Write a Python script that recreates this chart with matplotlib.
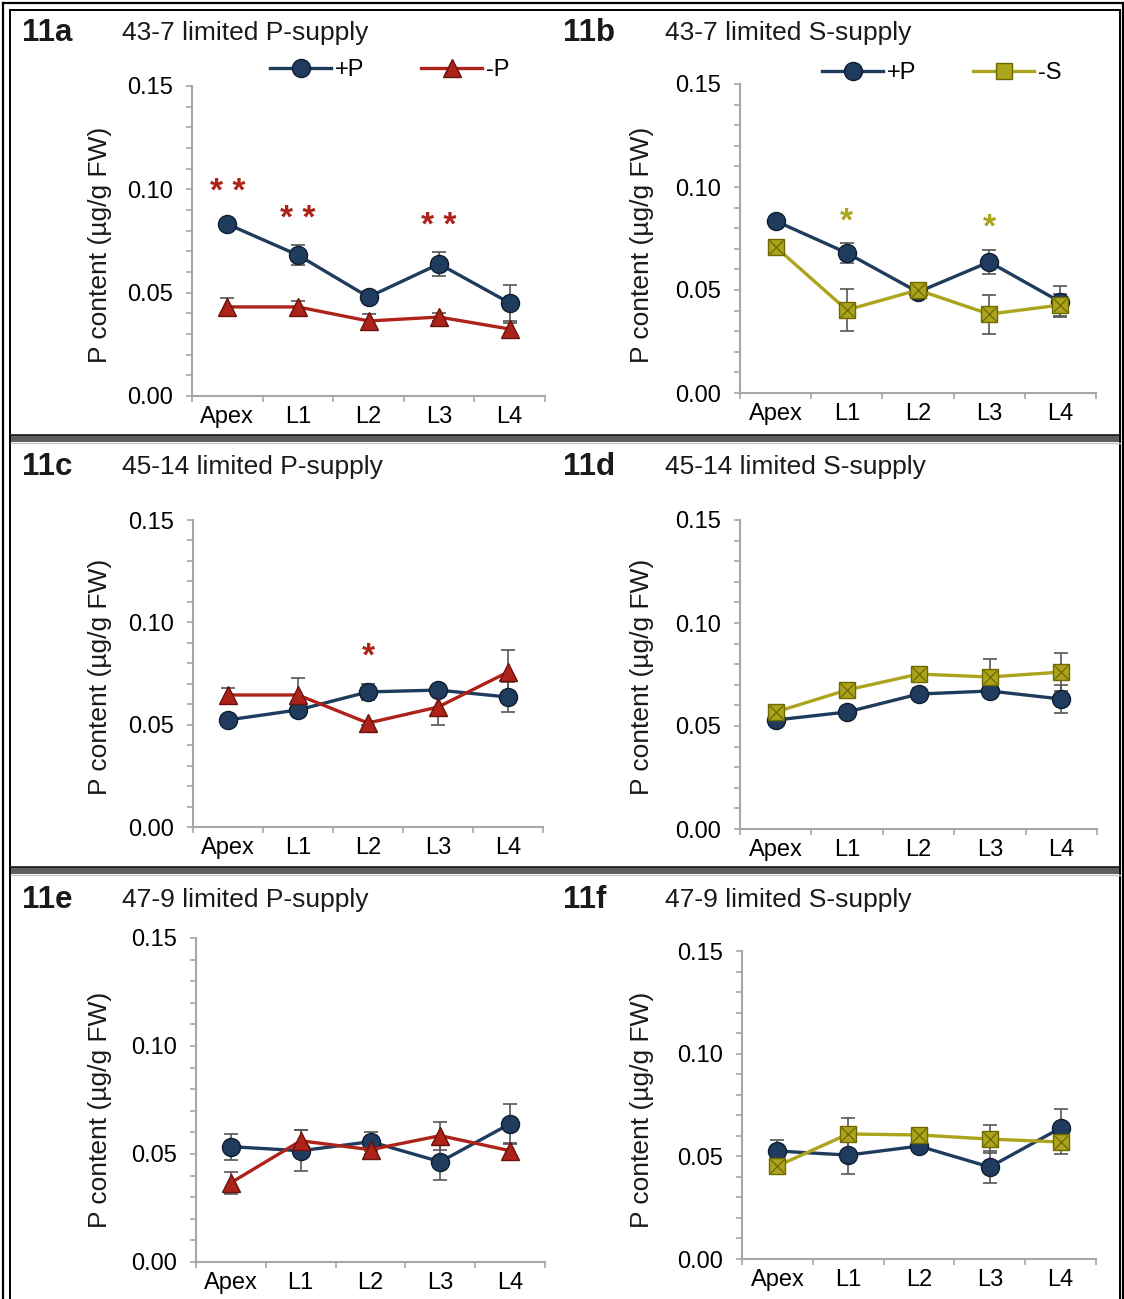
import matplotlib
matplotlib.use("Agg")
import matplotlib.pyplot as plt
from matplotlib.lines import Line2D
from matplotlib.patches import Rectangle
from matplotlib.ticker import MultipleLocator, FixedLocator

plt.rcParams['font.family'] = ['Liberation Sans', 'DejaVu Sans']

W, H = 1124, 1299

cats = ['Apex', 'L1', 'L2', 'L3', 'L4']
yticks = [0.0, 0.05, 0.10, 0.15]
ytick_labels = ['0.00', '0.05', '0.10', '0.15']

# 43-7 limited P-supply (11a)
a_plus = [0.0832, 0.0682, 0.0479, 0.0639, 0.0450]
a_plus_err = [0.0012, 0.0050, 0.0030, 0.0058, 0.0085]
a_minus = [0.0431, 0.0431, 0.0363, 0.0382, 0.0324]
a_minus_err = [0.0045, 0.0030, 0.0035, 0.0020, 0.0030]
a_stars = [(0, 0.1016, '* *'), (1, 0.0886, '* *'), (3, 0.0852, '* *')]

# 43-7 limited S-supply (11b)
b_plus = [0.0835, 0.0680, 0.0490, 0.0636, 0.0442]
b_plus_err = [0.0012, 0.0050, 0.0030, 0.0058, 0.0075]
b_minus = [0.0709, 0.0403, 0.0500, 0.0383, 0.0427]
b_minus_err = [0.0030, 0.0100, 0.0025, 0.0095, 0.0055]
b_stars = [(1, 0.0864, '*'), (3, 0.0835, '*')]

# 45-14 limited P-supply (11c)
c_plus = [0.0523, 0.0572, 0.0660, 0.0669, 0.0635]
c_plus_err = [0.0010, 0.0010, 0.0040, 0.0010, 0.0073]
c_minus = [0.0645, 0.0645, 0.0508, 0.0586, 0.0757]
c_minus_err = [0.0035, 0.0085, 0.0010, 0.0090, 0.0110]
c_stars = [(2, 0.0865, '*')]

# 45-14 limited S-supply (11d)
d_plus = [0.0529, 0.0568, 0.0655, 0.0670, 0.0631]
d_plus_err = [0.0010, 0.0010, 0.0030, 0.0010, 0.0070]
d_minus = [0.0568, 0.0675, 0.0752, 0.0738, 0.0762]
d_minus_err = [0.0020, 0.0030, 0.0010, 0.0087, 0.0090]
d_stars = []

# 47-9 limited P-supply (11e)
e_plus = [0.0534, 0.0515, 0.0557, 0.0464, 0.0640]
e_plus_err = [0.0060, 0.0095, 0.0045, 0.0085, 0.0093]
e_minus = [0.0367, 0.0561, 0.0520, 0.0585, 0.0515]
e_minus_err = [0.0050, 0.0050, 0.0020, 0.0065, 0.0037]
e_stars = []

# 47-9 limited S-supply (11f)
f_plus = [0.0526, 0.0506, 0.0550, 0.0448, 0.0638]
f_plus_err = [0.0055, 0.0090, 0.0020, 0.0080, 0.0093]
f_minus = [0.0453, 0.0609, 0.0604, 0.0584, 0.0570]
f_minus_err = [0.0040, 0.0080, 0.0015, 0.0070, 0.0060]
f_stars = []

NAVY = '#1f3c5e'
NAVY_DARK = '#0d1e33'
RED = '#ad2219'
RED_DARK = '#6a120c'
OLIVE = '#aca41c'
OLIVE_DARK = '#6d6800'
ERR = '#555555'
AXIS = '#a6a6a6'


def px_rect(x0, y0, x1, y1):
    return [x0 / W, 1 - y1 / H, (x1 - x0) / W, (y1 - y0) / H]


def fx(x):
    return x / W


def fy(y):
    return 1 - y / H


fig = plt.figure(figsize=(W / 100, H / 100), dpi=100)


def draw_panel(box, plus, plus_err, other, other_err, kind, stars):
    ax = fig.add_axes(px_rect(*box))
    x = list(range(len(cats)))
    oc = RED if kind == 'P' else OLIVE
    ax.errorbar(x, plus, yerr=plus_err, fmt='none', ecolor=ERR,
                elinewidth=1.2, capsize=4.8, capthick=1.2, zorder=2)
    ax.errorbar(x, other, yerr=other_err, fmt='none', ecolor=ERR,
                elinewidth=1.2, capsize=4.8, capthick=1.2, zorder=2)
    ax.plot(x, plus, color=NAVY, lw=2.4, marker='o', ms=13,
            mfc=NAVY, mec=NAVY_DARK, mew=1, zorder=3)
    if kind == 'P':
        ax.plot(x, other, color=RED, lw=2.4, marker='^', ms=13.5,
                mfc=RED, mec=RED_DARK, mew=1, zorder=4)
    else:
        ax.plot(x, other, color=OLIVE, lw=2.4, marker='s', ms=11.5,
                mfc=OLIVE, mec=OLIVE_DARK, mew=1, zorder=4)
        ax.plot(x, other, ls='none', marker='x', ms=10.5,
                mec=OLIVE_DARK, mew=0.9, zorder=5)
    for sx, sy, st in stars:
        ax.annotate(st, (sx, sy), xytext=(0, -5), textcoords='offset points',
                    color=oc, fontsize=24, fontweight='bold',
                    ha='center', va='center')

    ax.set_xlim(-0.5, 4.5)
    ax.set_ylim(0, 0.15)
    for s in ('top', 'right'):
        ax.spines[s].set_visible(False)
    for s in ('left', 'bottom'):
        ax.spines[s].set_color(AXIS)
        ax.spines[s].set_linewidth(1.5)
    ax.set_yticks(yticks)
    ax.set_yticklabels(ytick_labels)
    ax.yaxis.set_minor_locator(MultipleLocator(0.01))
    ax.set_xticks(x)
    ax.set_xticklabels(cats)
    ax.xaxis.set_minor_locator(FixedLocator([i - 0.5 for i in range(len(cats) + 1)]))
    ax.tick_params(axis='y', which='both', direction='out', length=4.5,
                   width=1.2, color=AXIS, labelsize=17, pad=9)
    ax.tick_params(axis='x', which='major', length=0, labelsize=17, pad=7)
    ax.tick_params(axis='x', which='minor', direction='out', length=4.5,
                   width=1.2, color=AXIS)
    ax.patch.set_alpha(0)
    return ax


panels = [
    ('11a', '43-7 limited P-supply', (192, 86, 545, 396), a_plus, a_plus_err, a_minus, a_minus_err, 'P', a_stars, 33, 245, 0),
    ('11b', '43-7 limited S-supply', (740, 84, 1096, 393), b_plus, b_plus_err, b_minus, b_minus_err, 'S', b_stars, 33, 245, 1),
    ('11c', '45-14 limited P-supply', (193, 520, 543, 827), c_plus, c_plus_err, c_minus, c_minus_err, 'P', c_stars, 467, 677, 0),
    ('11d', '45-14 limited S-supply', (740, 520, 1097, 829), d_plus, d_plus_err, d_minus, d_minus_err, 'S', d_stars, 467, 677, 1),
    ('11e', '47-9 limited P-supply', (196, 938, 545, 1262), e_plus, e_plus_err, e_minus, e_minus_err, 'P', e_stars, 900, 1110, 0),
    ('11f', '47-9 limited S-supply', (742, 951, 1096, 1259), f_plus, f_plus_err, f_minus, f_minus_err, 'S', f_stars, 900, 1110, 1),
]

axes = {}
for lab, title, box, p, pe, o, oe, kind, stars, ty, ly, col in panels:
    ax = draw_panel(box, p, pe, o, oe, kind, stars)
    axes[lab] = ax
    lx = 22 if col == 0 else 563
    tx = 122 if col == 0 else 665
    fig.text(fx(lx), fy(ty), lab, fontsize=22.5, fontweight='bold',
             ha='left', va='center', color='#1a1a1a')
    fig.text(fx(tx), fy(ty), title, fontsize=19, ha='left', va='center',
             color='#1a1a1a')
    fig.text(fx(100 if col == 0 else 642), fy(ly), 'P content (µg/g FW)',
             fontsize=19, rotation=90, ha='center', va='center',
             color='#1a1a1a')

# legends for the top row
h_plus = Line2D([], [], color=NAVY, lw=2.4, marker='o', ms=13,
                mfc=NAVY, mec=NAVY_DARK, mew=1)
h_minus_p = Line2D([], [], color=RED, lw=2.4, marker='^', ms=13.5,
                   mfc=RED, mec=RED_DARK, mew=1)
h_minus_s = Line2D([], [], color=OLIVE, lw=2.4, marker='s', ms=11.5,
                   mfc=OLIVE, mec=OLIVE_DARK, mew=1)
for lab, h2, t2, lx, ly in [('11a', h_minus_p, '-P', 270, 70),
                            ('11b', h_minus_s, '-S', 822, 73)]:
    axes[lab].legend([h_plus, h2], ['+P', t2], loc='center left',
                     bbox_to_anchor=(fx(lx), fy(ly)),
                     bbox_transform=fig.transFigure, ncol=2, frameon=False,
                     fontsize=17, handlelength=2.6, handletextpad=0.15,
                     columnspacing=2.4, borderpad=0, borderaxespad=0,
                     numpoints=1)


# frame lines
def hline(y, x0, x1, lw, color='k'):
    fig.add_artist(Line2D([fx(x0), fx(x1)], [fy(y), fy(y)], color=color,
                          lw=lw, transform=fig.transFigure))


def vline(x, y0, y1, lw, color='k'):
    fig.add_artist(Line2D([fx(x), fx(x)], [fy(y0), fy(y1)], color=color,
                          lw=lw, transform=fig.transFigure))


hline(2.5, 2.5, 1122.5, 1.6)
vline(2.5, 2.5, 1299, 1.6)
vline(1122.5, 2.5, 1299, 1.6)
hline(10, 10, 1120, 1.4)
vline(10, 10, 1299, 1.4)
vline(1120, 10, 1299, 1.4)

for y0 in (435, 867):
    fig.add_artist(Rectangle((fx(11), fy(y0 + 7)), fx(1120) - fx(11),
                             fy(y0) - fy(y0 + 7), transform=fig.transFigure,
                             facecolor='#5e5e5e', edgecolor='none'))
    hline(y0, 11, 1120, 1.2, '#1a1a1a')
    hline(y0 + 8, 11, 1120, 1.0, '#c4c4c4')

fig.savefig('out.png', dpi=100, facecolor='white')
